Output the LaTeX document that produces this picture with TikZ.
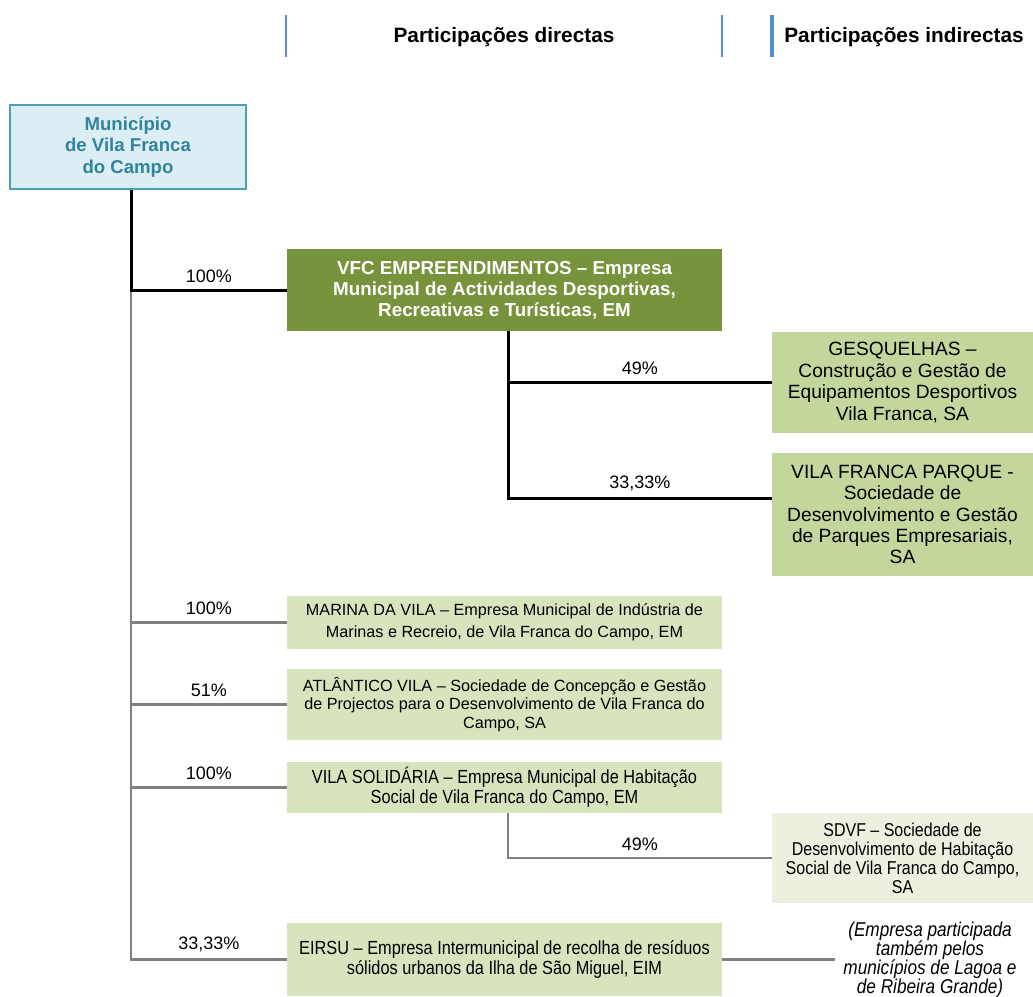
\documentclass[tikz,border=0pt]{standalone}
\usepackage{fontspec}
\setmainfont{Liberation Sans}
\newfontfamily\narrowfont{Liberation Sans}[FakeStretch=0.86]

\definecolor{muniblue}{HTML}{DAEEF3}
\definecolor{muniedge}{HTML}{4E9FB5}
\definecolor{munitext}{HTML}{31849B}
\definecolor{olive}{HTML}{77933C}
\definecolor{midgreen}{HTML}{C3D69B}
\definecolor{lightgreen}{HTML}{D7E4BD}
\definecolor{palegreen}{HTML}{EBF1DE}
\definecolor{rulegray}{HTML}{808080}
\definecolor{hdrblue}{HTML}{558ED5}

\begin{document}
\begin{tikzpicture}[
		x = 0.5pt, y = -0.5pt,
		box/.style = {align=center, inner sep=0pt, anchor=center},
		munibox/.style = {box, fill=muniblue, draw=muniedge, line width=1.2pt, text=munitext,
			font=\bfseries\fontsize{9.3}{10.7}\selectfont},
		vfcbox/.style = {box, fill=olive, text=white, font=\bfseries\fontsize{9.4}{10.5}\selectfont},
		indbox/.style = {box, fill=midgreen, font=\fontsize{9.6}{10.7}\selectfont},
		dirbox/.style = {box, fill=lightgreen, font=\fontsize{8.1}{9.4}\selectfont},
		narbox/.style = {box, fill=lightgreen, font=\narrowfont\fontsize{9.5}{10}\selectfont},
		sdvfbox/.style = {box, fill=palegreen, font=\narrowfont\fontsize{9.3}{9.5}\selectfont},
		note/.style = {align=center, inner sep=2pt, font={\narrowfont\itshape\fontsize{10}{9.6}\selectfont\lineskiplimit-5pt\relax}},
		hdr/.style = {font=\bfseries\fontsize{10.4}{12}\selectfont},
		hdrline/.style = {hdrblue, line width=1pt},
		blk/.style = {black, line width=1.5pt},
		gry/.style = {rulegray, line width=1.4pt},
		pct/.style = {above, inner sep=3pt, text=black, font=\fontsize{9}{10}\selectfont}
	]
	\useasboundingbox (0,0) rectangle (1033,996);

	\draw[hdrline] (286,15) -- (286,57);
	\draw[hdrline] (722,15) -- (722,57);
	\draw[hdrline, line width=1.6pt] (772,15) -- (772,57);
	\node[hdr] (hdrdir) at (504,37) {Participações directas};
	\node[hdr] (hdrind) at (904,37) {Participações indirectas};

	\node[munibox, minimum width=118pt, minimum height=42pt] (muni) at (128,147) {Município\\de Vila Franca\\do Campo};

	\node[vfcbox, minimum width=217.5pt, minimum height=41pt] (vfc) at (504.5,290)
		{VFC EMPREENDIMENTOS – Empresa\\Municipal de Actividades Desportivas,\\Recreativas e Turísticas, EM};
	\node[indbox, minimum width=130.5pt, minimum height=50.5pt] (gesq) at (902.5,382.5)
		{GESQUELHAS –\\Construção e Gestão de\\Equipamentos Desportivos\\Vila Franca, SA};
	\node[indbox, minimum width=130.5pt, minimum height=61.5pt] (vfp) at (902.5,514.5)
		{VILA FRANCA PARQUE -\\Sociedade de\\Desenvolvimento e Gestão\\de Parques Empresariais,\\SA};

	\node[dirbox, minimum width=217.5pt, minimum height=26.5pt, font=\fontsize{8.1}{11.2}\selectfont] (marina) at (504.5,622.5)
		{MARINA DA VILA – Empresa Municipal de Indústria de\\Marinas e Recreio, de Vila Franca do Campo, EM};
	\node[dirbox, minimum width=217.5pt, minimum height=35.5pt] (atl) at (504.5,704.5)
		{ATLÂNTICO VILA – Sociedade de Concepção e Gestão\\de Projectos para o Desenvolvimento de Vila Franca do\\Campo, SA};
	\node[narbox, minimum width=217.5pt, minimum height=25.5pt] (vsol) at (504.5,787.5)
		{VILA SOLIDÁRIA – Empresa Municipal de Habitação\\Social de Vila Franca do Campo, EM};
	\node[sdvfbox, minimum width=130.5pt, minimum height=45pt] (sdvf) at (902.5,858)
		{SDVF – Sociedade de\\Desenvolvimento de Habitação\\Social de Vila Franca do Campo,\\SA};
	\node[narbox, minimum width=217.5pt, minimum height=36.5pt] (eirsu) at (504.5,959.5)
		{EIRSU – Empresa Intermunicipal de recolha de resíduos\\sólidos urbanos da Ilha de São Miguel, EIM};
	\node[note] (nota) at (930,960)
		{(Empresa participada\\também pelos\\municípios de Lagoa e\\de Ribeira Grande)};

	\coordinate (trunk) at ([xshift=1.5pt]muni.south);
	\coordinate (vfcdrop) at ([xshift=1.75pt]vfc.south);
	\coordinate (vsoldrop) at ([xshift=1.75pt]vsol.south);

	\draw[gry] (trunk |- vfc.west) |- node[pct, pos=0.75]{33,33\%} (eirsu.west);
	\draw[gry] (trunk |- marina.west) -- node[pct]{100\%} (marina.west);
	\draw[gry] (trunk |- atl.west) -- node[pct]{51\%} (atl.west);
	\draw[gry] (trunk |- vsol.west) -- node[pct]{100\%} (vsol.west);
	\draw[blk] (trunk) |- node[pct, pos=0.75]{100\%} (vfc.west);

	\draw[blk] (vfcdrop) |- node[pct, pos=0.75]{49\%} (gesq.west);
	\draw[blk] (vfcdrop) |- node[pct, pos=0.75]{33,33\%} ([yshift=8pt]vfp.west);
	\draw[gry] (vsoldrop) |- node[pct, pos=0.75]{49\%} (sdvf.west);
	\draw[gry] (eirsu.east) -- ([xshift=-2pt]eirsu.east -| nota.west);

\end{tikzpicture}
\end{document}
